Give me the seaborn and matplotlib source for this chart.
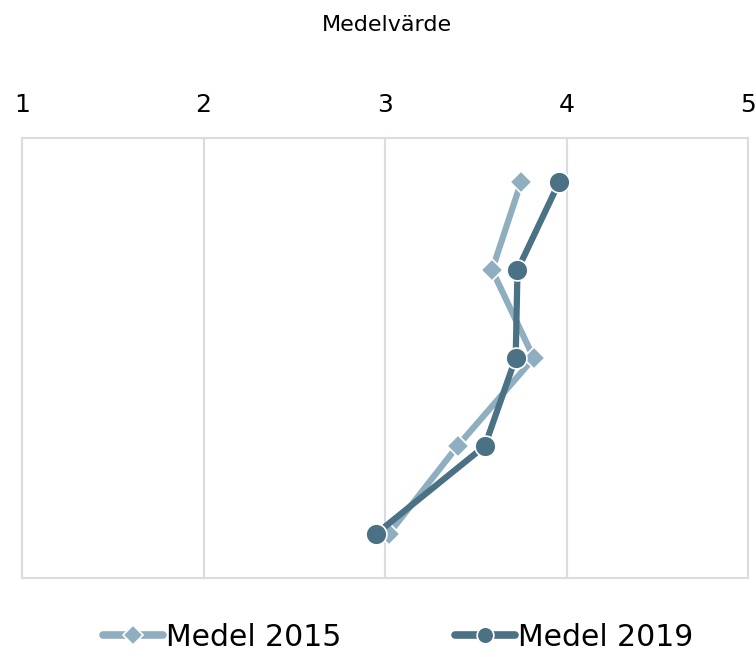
import matplotlib
matplotlib.use("Agg")
import matplotlib.pyplot as plt
import seaborn as sns
import pandas as pd
from matplotlib.lines import Line2D

rows = [0, 1, 2, 3, 4]
medel_2015 = [3.75, 3.59, 3.82, 3.40, 3.02]
medel_2019 = [3.96, 3.73, 3.72, 3.55, 2.95]
x_ticks = [1, 2, 3, 4, 5]
series_names = ["Medel 2015", "Medel 2019"]
title = "Medelvärde"

sns.set_theme(style="white")
plt.rcParams['font.family'] = ['DejaVu Sans']

c15 = "#8FAFC0"
c19 = "#4B7185"

df = pd.DataFrame({
    "row": rows * 2,
    "value": medel_2015 + medel_2019,
    "serie": [series_names[0]] * 5 + [series_names[1]] * 5,
})

fig = plt.figure(figsize=(7.56, 6.57), dpi=100)
ax = fig.add_axes([22/756, 1 - 578/657, 726/756, 440/657])

sns.lineplot(data=df[df.serie == series_names[0]], x="value", y="row", orient="y",
             color=c15, lw=4.5, marker="D", markersize=11, markeredgecolor="white",
             markeredgewidth=1.2, ax=ax, legend=False, zorder=3)
sns.lineplot(data=df[df.serie == series_names[1]], x="value", y="row", orient="y",
             color=c19, lw=4.5, marker="o", markersize=15, markeredgecolor="white",
             markeredgewidth=1.2, ax=ax, legend=False, zorder=4)

ax.set_xlim(1, 5)
ax.set_ylim(4.5, -0.5)
ax.set_xticks(x_ticks)
ax.set_xticklabels([str(t) for t in x_ticks])
ax.xaxis.tick_top()
ax.tick_params(axis="x", length=0, labelsize=18, pad=15, colors="#000000")
ax.set_yticks([])
ax.set_xlabel("")
ax.set_ylabel("")
ax.grid(axis="x", color="#D9DCE3", lw=1.5)
ax.set_axisbelow(True)
for s in ax.spines.values():
    s.set_color("#D9DCE3")
    s.set_linewidth(1.5)

fig.text(387/756, 1 - 25/657, title, ha="center", va="center", fontsize=16, color="#000000")

handles = [
    Line2D([], [], color=c15, lw=5.5, marker="D", markersize=10, markeredgecolor="white", markeredgewidth=1.2,
           solid_capstyle="round"),
    Line2D([], [], color=c19, lw=5.5, marker="o", markersize=12, markeredgecolor="white", markeredgewidth=1.2,
           solid_capstyle="round"),
]
leg = fig.legend(handles, series_names, loc="center", bbox_to_anchor=(398/756, 1 - 637/657), ncol=2,
                 frameon=False, fontsize=21.5, handlelength=2.0, handletextpad=0.1, columnspacing=3.8)
for t in leg.get_texts():
    t.set_color("#000000")

fig.savefig("out.png", dpi=100)
